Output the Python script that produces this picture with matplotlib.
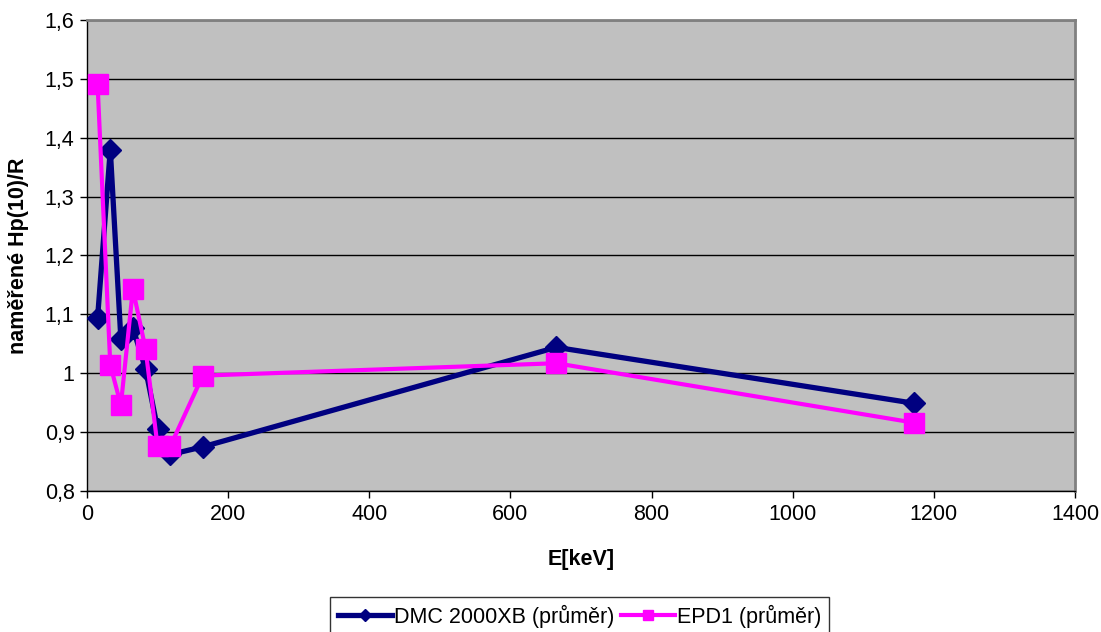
import matplotlib
matplotlib.use("Agg")
import matplotlib.pyplot as plt
from matplotlib.ticker import FuncFormatter, MultipleLocator

# energies [keV] and measured Hp(10)/R ratios
energy = [15, 33, 48, 65, 83, 100, 118, 164, 665, 1172]
dmc = [1.094, 1.380, 1.058, 1.077, 1.007, 0.906, 0.862, 0.875, 1.044, 0.949]
epd = [1.491, 1.014, 0.946, 1.143, 1.041, 0.876, 0.876, 0.996, 1.017, 0.916]

plt.rcParams["font.family"] = ["Liberation Sans", "DejaVu Sans"]
plt.rcParams["font.size"] = 15.5

fig = plt.figure(figsize=(11.01, 6.32), dpi=100)
ax = fig.add_axes([87 / 1101, 1 - 491 / 632, 988 / 1101, 471 / 632])
ax.set_facecolor("#c0c0c0")

ax.plot(energy, dmc, color="#000080", lw=3.8, marker="D", markersize=11.5,
        label="DMC 2000XB (průměr)", zorder=3)
ax.plot(energy, epd, color="#ff00ff", lw=3.0, marker="s", markersize=14,
        label="EPD1 (průměr)", zorder=4)

ax.set_xlim(0, 1400)
ax.set_ylim(0.8, 1.6)
ax.xaxis.set_major_locator(MultipleLocator(200))
ax.yaxis.set_major_locator(MultipleLocator(0.1))
ax.yaxis.set_major_formatter(FuncFormatter(lambda v, p: f"{v:.1f}".rstrip("0").rstrip(".").replace(".", ",")))
ax.grid(True, axis="y", color="black", lw=1.0)
ax.set_axisbelow(True)

for side in ("top", "right"):
    ax.spines[side].set_color("#808080")
    ax.spines[side].set_linewidth(2)
for side in ("left", "bottom"):
    ax.spines[side].set_color("black")
    ax.spines[side].set_linewidth(1)
ax.tick_params(direction="out", length=5, width=1, labelsize=15.5, pad=4)

ax.set_xlabel("E[keV]", fontweight="bold", fontsize=15.5, labelpad=18)
ax.set_ylabel("naměřené Hp(10)/R", fontweight="bold", fontsize=15.5, labelpad=11)

leg = fig.legend(loc="upper center", bbox_to_anchor=(579.5 / 1101, 1 - 597 / 632),
                 borderaxespad=0, ncol=2, frameon=True, fancybox=False,
                 markerscale=0.55, handlelength=2.5, handletextpad=0.1,
                 columnspacing=0.3, borderpad=0.35, fontsize=15.5)
leg.get_frame().set_edgecolor("black")
leg.get_frame().set_linewidth(1)

fig.savefig("out.png", dpi=100, facecolor="white")
